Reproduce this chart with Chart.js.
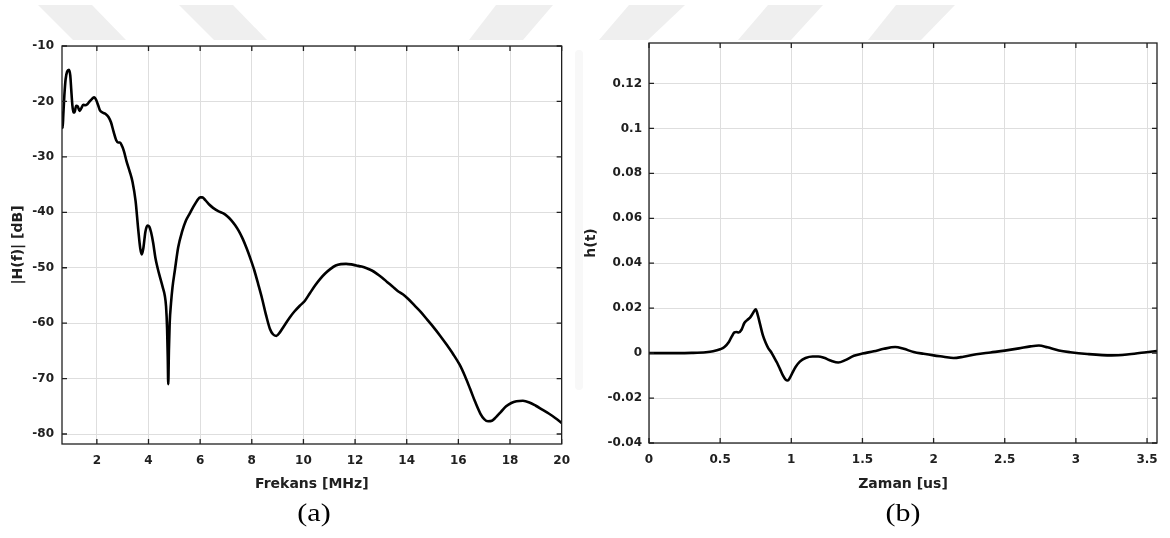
<!DOCTYPE html>
<html>
<head>
<meta charset="utf-8">
<script src="https://cdn.jsdelivr.net/npm/chart.js@4.4.1/dist/chart.umd.min.js"></script>
<style>
  html, body { margin: 0; padding: 0; background: #fff; }
  #page { position: relative; width: 1170px; height: 538px; overflow: hidden; }
  .wm { position: absolute; background: #efefef; }
  canvas { position: absolute; top: 0; }
  .cap { position: absolute; top: 499px; width: 80px; text-align: center;
         font-family: "Liberation Serif", "Times New Roman", serif; font-size: 25px;
         color: #000; transform: scaleX(1.2); }
</style>
</head>
<body>
<div id="page">
  <!-- faint watermark pieces behind the figures -->
  <div class="wm" style="left:0;top:0;width:1170px;height:45px;clip-path:polygon(38px 5px,92px 5px,126px 40px,73px 40px);"></div>
  <div class="wm" style="left:0;top:0;width:1170px;height:45px;clip-path:polygon(179px 5px,233px 5px,267px 40px,214px 40px);"></div>
  <div class="wm" style="left:0;top:0;width:1170px;height:45px;clip-path:polygon(496px 5px,553px 5px,523px 40px,469px 40px);"></div>
  <div class="wm" style="left:0;top:0;width:1170px;height:45px;clip-path:polygon(629px 5px,685px 5px,648px 40px,599px 40px);"></div>
  <div class="wm" style="left:0;top:0;width:1170px;height:45px;clip-path:polygon(768px 5px,823px 5px,791px 40px,738px 40px);"></div>
  <div class="wm" style="left:0;top:0;width:1170px;height:45px;clip-path:polygon(896px 5px,955px 5px,921px 40px,868px 40px);"></div>
  <div class="wm" style="left:575px;top:50px;width:8px;height:340px;background:#f8f8f8;border-radius:4px;"></div>

  <canvas id="freqChart" width="580" height="538" style="left:0"></canvas>
  <canvas id="timeChart" width="590" height="538" style="left:580px"></canvas>
  <div class="cap" style="left:274px">(a)</div>
  <div class="cap" style="left:863px">(b)</div>
</div>
<script>
// (a) magnitude response
var freqMHz = [0.65, 0.675, 0.70, 0.74, 0.79, 0.85, 0.92, 0.97, 1.01, 1.05, 1.09, 1.13,
  1.20, 1.26, 1.33, 1.40, 1.47, 1.55, 1.63, 1.72, 1.82, 1.90, 1.97, 2.05, 2.12, 2.22,
  2.35, 2.45, 2.55, 2.65, 2.75, 2.82, 2.90, 2.98, 3.05, 3.15, 3.27, 3.38, 3.50, 3.60,
  3.68, 3.74, 3.80, 3.88, 3.96, 4.03, 4.10, 4.18, 4.27, 4.35, 4.45, 4.55, 4.63, 4.68,
  4.72, 4.745, 4.765, 4.79, 4.82, 4.87, 4.93, 5.02, 5.15, 5.30, 5.45, 5.60, 5.75, 5.88,
  6.00, 6.08, 6.20, 6.35, 6.50, 6.70, 6.90, 7.05, 7.20, 7.35, 7.50, 7.65, 7.80, 7.95,
  8.10, 8.25, 8.40, 8.55, 8.70, 8.82, 8.95, 9.08, 9.25, 9.45, 9.65, 9.85, 10.05, 10.25,
  10.45, 10.65, 10.85, 11.05, 11.25, 11.45, 11.65, 11.85, 12.05, 12.25, 12.45, 12.65,
  12.85, 13.05, 13.25, 13.45, 13.65, 13.85, 14.05, 14.30, 14.55, 14.80, 15.05, 15.30,
  15.55, 15.80, 16.05, 16.25, 16.45, 16.65, 16.85, 17.00, 17.15, 17.30, 17.45, 17.65,
  17.85, 18.05, 18.25, 18.50, 18.75, 19.00, 19.25, 19.50, 19.75, 20.00];
var magDb = [-21.8, -24.8, -22.5, -19.0, -16.0, -14.6, -14.3, -15.3, -18.0, -20.6, -22.0, -22.0,
  -20.8, -20.9, -21.7, -21.2, -20.6, -20.7, -20.5, -20.0, -19.5, -19.25, -19.7, -20.7, -21.6, -22.0,
  -22.3, -22.8, -23.8, -25.5, -27.0, -27.4, -27.4, -28.1, -29.0, -30.8, -32.6, -34.5, -38.0, -43.0,
  -46.5, -47.6, -46.5, -43.5, -42.4, -42.6, -43.6, -45.5, -48.3, -50.0, -51.8, -53.5, -55.0, -57.0,
  -61.0, -66.0, -71.0, -65.0, -60.0, -56.5, -53.5, -50.5, -46.3, -43.5, -41.5, -40.2, -38.9, -37.9,
  -37.3, -37.3, -37.8, -38.6, -39.2, -39.8, -40.2, -40.7, -41.4, -42.3, -43.4, -44.8, -46.5, -48.4,
  -50.5, -53.0, -55.6, -58.5, -61.0, -62.0, -62.3, -61.7, -60.5, -59.1, -57.9, -56.9, -56.0, -54.6,
  -53.2, -52.0, -51.0, -50.2, -49.6, -49.35, -49.3, -49.4, -49.6, -49.8, -50.1, -50.5,
  -51.1, -51.8, -52.6, -53.4, -54.2, -54.8, -55.6, -56.8, -58.0, -59.4, -60.8, -62.3,
  -63.9, -65.6, -67.5, -69.5, -71.8, -74.2, -76.3, -77.3, -77.7, -77.6, -77.0, -76.0,
  -75.0, -74.4, -74.1, -74.0, -74.3, -74.9, -75.6, -76.3, -77.1, -78.0];
var freqTicks = [2, 4, 6, 8, 10, 12, 14, 16, 18, 20];
var freqTickLabels = ['2', '4', '6', '8', '10', '12', '14', '16', '18', '20'];
var dbTicks = [-80, -70, -60, -50, -40, -30, -20, -10];
var dbTickLabels = ['-80', '-70', '-60', '-50', '-40', '-30', '-20', '-10'];

// (b) impulse response
var timeUs = [0, 0.2, 0.3, 0.4, 0.45, 0.5, 0.53, 0.56, 0.58, 0.60, 0.615, 0.63, 0.65, 0.67,
  0.69, 0.71, 0.73, 0.75, 0.765, 0.78, 0.80, 0.82, 0.84, 0.86, 0.88, 0.90, 0.92, 0.94, 0.96,
  0.975, 0.99, 1.01, 1.03, 1.06, 1.10, 1.15, 1.19, 1.23, 1.28, 1.33, 1.38, 1.44, 1.50, 1.58,
  1.65, 1.73, 1.79, 1.86, 1.93, 2.00, 2.07, 2.14, 2.21, 2.30, 2.40, 2.50, 2.60, 2.68, 2.74,
  2.80, 2.88, 2.96, 3.08, 3.25, 3.36, 3.48, 3.57];
var hVals = [0, 0, 0.0001, 0.0004, 0.0008, 0.0017, 0.0027, 0.0048, 0.0072, 0.0092, 0.0094, 0.0092, 0.0104, 0.0134,
  0.0147, 0.0158, 0.0177, 0.0195, 0.0168, 0.0130, 0.0080, 0.0046, 0.0020, 0.0003, -0.0020, -0.0043, -0.0070, -0.0098, -0.0118,
  -0.0122, -0.0110, -0.0085, -0.0062, -0.0038, -0.0022, -0.0015, -0.0015, -0.0021, -0.0034, -0.0042, -0.0031, -0.0012, -0.0002, 0.0008,
  0.0019, 0.0027, 0.0019, 0.0005, -0.0003, -0.0010, -0.0016, -0.0022, -0.0016, -0.0005, 0.0003, 0.0011, 0.0021, 0.0030, 0.0034,
  0.0026, 0.0012, 0.0004, -0.0004, -0.0010, -0.0006, 0.0003, 0.0009];
var timeTicks = [0, 0.5, 1, 1.5, 2, 2.5, 3, 3.5];
var timeTickLabels = ['0', '0.5', '1', '1.5', '2', '2.5', '3', '3.5'];
var hTicks = [-0.04, -0.02, 0, 0.02, 0.04, 0.06, 0.08, 0.1, 0.12];
var hTickLabels = ['-0.04', '-0.02', '0', '0.02', '0.04', '0.06', '0.08', '0.1', '0.12'];

var axisColor = '#202020';
var gridColor = '#dedede';

Chart.defaults.font.family = 'DejaVu Sans';
Chart.defaults.font.weight = 'bold';
Chart.defaults.font.size = 12;
Chart.defaults.color = axisColor;

// MATLAB style box with inward ticks on all four sides
var boxPlugin = {
  id: 'box',
  afterDatasetsDraw: function (chart) {
    var ctx = chart.ctx, a = chart.chartArea, x = chart.scales.x, y = chart.scales.y;
    ctx.save();
    ctx.strokeStyle = axisColor;
    ctx.lineWidth = 1.3;
    ctx.strokeRect(a.left, a.top, a.right - a.left, a.bottom - a.top);
    ctx.beginPath();
    x.ticks.forEach(function (t) {
      var px = x.getPixelForValue(t.value);
      ctx.moveTo(px, a.bottom); ctx.lineTo(px, a.bottom - 5);
      ctx.moveTo(px, a.top); ctx.lineTo(px, a.top + 5);
    });
    y.ticks.forEach(function (t) {
      var py = y.getPixelForValue(t.value);
      ctx.moveTo(a.left, py); ctx.lineTo(a.left + 5, py);
      ctx.moveTo(a.right, py); ctx.lineTo(a.right - 5, py);
    });
    ctx.stroke();
    ctx.restore();
  }
};

function makeChart(id, xs, ys, o) {
  var pts = xs.map(function (v, i) { return { x: v, y: ys[i] }; });
  return new Chart(document.getElementById(id), {
    type: 'line',
    data: {
      datasets: [{
        data: pts,
        borderColor: '#000',
        borderWidth: 2.6,
        pointRadius: 0,
        fill: false,
        cubicInterpolationMode: 'monotone'
      }]
    },
    options: {
      responsive: false,
      animation: false,
      layout: { padding: { top: o.top, right: o.right, left: 0, bottom: 0 } },
      plugins: { legend: { display: false }, tooltip: { enabled: false } },
      scales: {
        x: {
          type: 'linear',
          min: o.xMin, max: o.xMax,
          afterBuildTicks: function (s) { s.ticks = o.xTicks.map(function (v) { return { value: v }; }); },
          afterFit: function (s) { s.height = o.xH; },
          grid: { color: gridColor, lineWidth: 1, drawTicks: false },
          border: { display: false },
          ticks: { padding: 10, autoSkip: false, maxRotation: 0,
                   callback: function (v, i) { return o.xLabels[i]; } },
          title: { display: true, text: o.xTitle, font: { size: 14, weight: 'bold' },
                   padding: { top: 0, bottom: 45 } }
        },
        y: {
          min: o.yMin, max: o.yMax,
          afterBuildTicks: function (s) { s.ticks = o.yTicks.map(function (v) { return { value: v }; }); },
          afterFit: function (s) { s.width = o.yW; },
          grid: { color: gridColor, lineWidth: 1, drawTicks: false },
          border: { display: false },
          ticks: { padding: o.yPad, autoSkip: false,
                   callback: function (v, i) { return o.yLabels[i]; } },
          title: { display: true, text: o.yTitle, font: { size: 14, weight: 'bold' },
                   padding: { top: o.yTitlePad, bottom: 0 } }
        }
      }
    },
    plugins: [boxPlugin]
  });
}

makeChart('freqChart', freqMHz, magDb, {
  top: 46, right: 14, xH: 94, yW: 62, yPad: 8, yTitlePad: 10,
  xMin: 0.65, xMax: 20, yMin: -81.8, yMax: -10,
  xTicks: freqTicks, xLabels: freqTickLabels, yTicks: dbTicks, yLabels: dbTickLabels,
  xTitle: 'Frekans [MHz]', yTitle: '|H(f)| [dB]'
});

makeChart('timeChart', timeUs, hVals, {
  top: 43, right: 13, xH: 95, yW: 69, yPad: 7, yTitlePad: 3,
  xMin: 0, xMax: 3.57, yMin: -0.04, yMax: 0.138,
  xTicks: timeTicks, xLabels: timeTickLabels, yTicks: hTicks, yLabels: hTickLabels,
  xTitle: 'Zaman [us]', yTitle: 'h(t)'
});
</script>
</body>
</html>
